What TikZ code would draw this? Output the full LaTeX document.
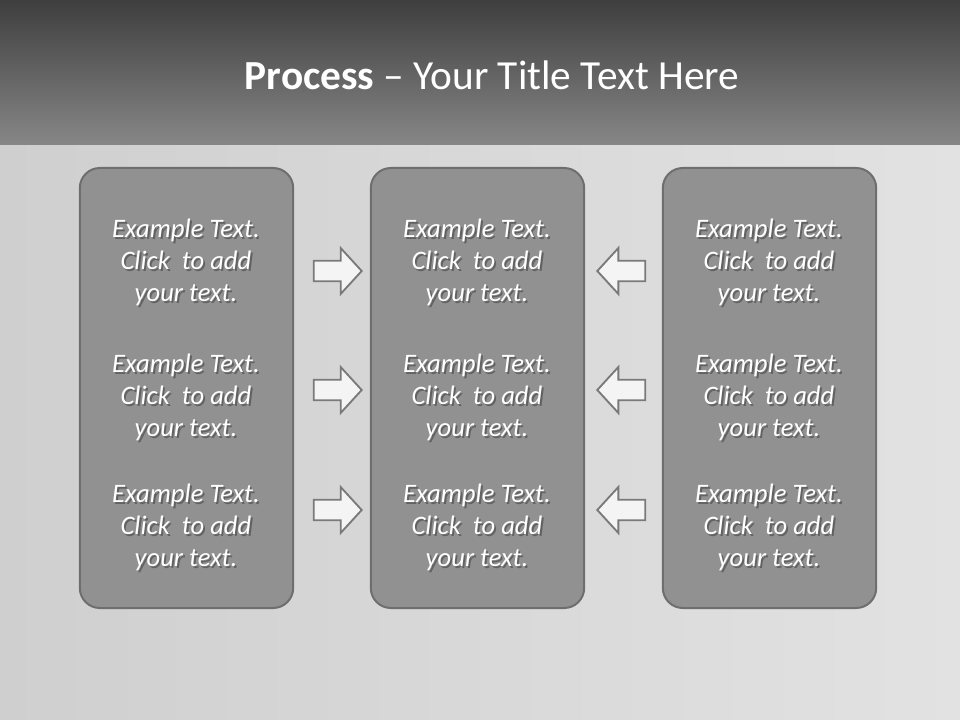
\documentclass[tikz,border=0pt]{standalone}
\usepackage{fontspec}
\setmainfont{Carlito}
\usepackage{xcolor}
\usepackage{tikz}
\usetikzlibrary{shapes.arrows,positioning,calc}
\definecolor{headtop}{HTML}{3E3E3E}
\definecolor{headbot}{HTML}{878787}
\definecolor{metalA}{HTML}{CFCFCF}
\definecolor{metalB}{HTML}{E2E2E2}
\definecolor{panelfill}{HTML}{919191}
\definecolor{paneledge}{HTML}{6E6E6E}
\definecolor{arrowedge}{HTML}{7A7A7A}
\definecolor{arrowfill}{HTML}{F4F4F4}
\definecolor{txtshadow}{HTML}{626262}
% one line of text with a soft drop shadow behind it
\newcommand{\shline}[1]{\makebox[0pt][l]{\hspace{1.4pt}\raisebox{-1.4pt}{\textcolor{txtshadow}{#1}}}#1}
\tikzset{
  panel/.style={rectangle, draw=paneledge, line width=1.5pt, rounded corners=15pt,
                fill=panelfill, minimum width=160pt, minimum height=330pt},
  txt/.style={align=center, text=white, font=\fontsize{20}{24}\selectfont\itshape,
              inner sep=0pt},
  rarr/.style={single arrow, draw=arrowedge, fill=arrowfill, line width=1.4pt,
               inner sep=7pt, minimum height=36pt, single arrow head extend=9.5pt,
               single arrow tip angle=95},
  larr/.style={rarr, shape border rotate=180}
}
\begin{document}
\begin{tikzpicture}[x=0.75pt, y=-0.75pt]
  \useasboundingbox (0,0) rectangle (960,720);
  % background and title band
  \shade[left color=metalA, right color=metalB] (0,145) rectangle (960,720);
  \shade[top color=headtop, bottom color=headbot] (0,0) rectangle (960,145);
  \node[text=white, font=\fontsize{31}{37}\selectfont] (title) at (492,75)
    {\textbf{Process} -- Your Title Text Here};
  % three panels
  \node[panel] (left) at (186.5,388) {};
  \node[panel] (mid) at (477.5,388) {};
  \node[panel] (right) at (769.5,388) {};
  \node[txt] (l1) at (186,263) {\shline{Example Text.}\\\shline{Click~ to add}\\\shline{your text.}};
  \node[txt] (l2) at (186,398) {\shline{Example Text.}\\\shline{Click~ to add}\\\shline{your text.}};
  \node[txt] (l3) at (186,528) {\shline{Example Text.}\\\shline{Click~ to add}\\\shline{your text.}};
  \node[txt] (m1) at (477,263) {\shline{Example Text.}\\\shline{Click~ to add}\\\shline{your text.}};
  \node[txt] (m2) at (477,398) {\shline{Example Text.}\\\shline{Click~ to add}\\\shline{your text.}};
  \node[txt] (m3) at (477,528) {\shline{Example Text.}\\\shline{Click~ to add}\\\shline{your text.}};
  \node[txt] (r1) at (769,263) {\shline{Example Text.}\\\shline{Click~ to add}\\\shline{your text.}};
  \node[txt] (r2) at (769,398) {\shline{Example Text.}\\\shline{Click~ to add}\\\shline{your text.}};
  \node[txt] (r3) at (769,528) {\shline{Example Text.}\\\shline{Click~ to add}\\\shline{your text.}};
  % block arrows between the panels
  \node[rarr] (ra1) at (333,271) {};
  \node[rarr] (ra2) at (333,390) {};
  \node[rarr] (ra3) at (333,510) {};
  \node[larr] (la1) at (626,271) {};
  \node[larr] (la2) at (626,390) {};
  \node[larr] (la3) at (626,510) {};
\end{tikzpicture}
\end{document}
